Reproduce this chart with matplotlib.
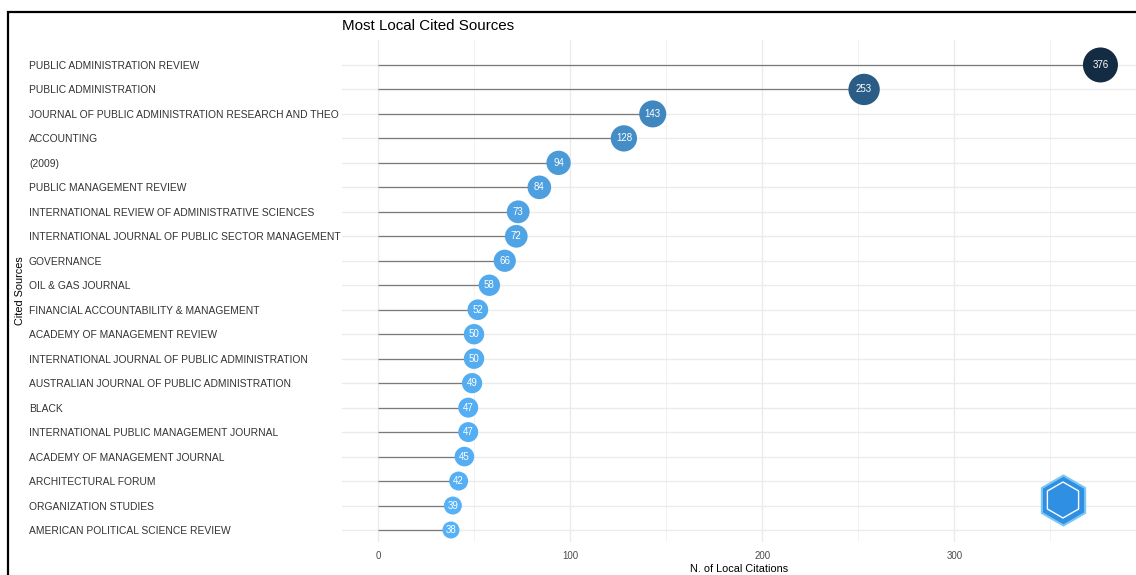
import numpy as np
import matplotlib
matplotlib.use('Agg')
import matplotlib.pyplot as plt
from matplotlib.colors import LinearSegmentedColormap
from matplotlib.patches import Rectangle

plt.rcParams['font.family'] = ['Liberation Sans', 'DejaVu Sans']

sources = [
    "PUBLIC ADMINISTRATION REVIEW",
    "PUBLIC ADMINISTRATION",
    "JOURNAL OF PUBLIC ADMINISTRATION RESEARCH AND THEO",
    "ACCOUNTING",
    "(2009)",
    "PUBLIC MANAGEMENT REVIEW",
    "INTERNATIONAL REVIEW OF ADMINISTRATIVE SCIENCES",
    "INTERNATIONAL JOURNAL OF PUBLIC SECTOR MANAGEMENT",
    "GOVERNANCE",
    "OIL & GAS JOURNAL",
    "FINANCIAL ACCOUNTABILITY & MANAGEMENT",
    "ACADEMY OF MANAGEMENT REVIEW",
    "INTERNATIONAL JOURNAL OF PUBLIC ADMINISTRATION",
    "AUSTRALIAN JOURNAL OF PUBLIC ADMINISTRATION",
    "BLACK",
    "INTERNATIONAL PUBLIC MANAGEMENT JOURNAL",
    "ACADEMY OF MANAGEMENT JOURNAL",
    "ARCHITECTURAL FORUM",
    "ORGANIZATION STUDIES",
    "AMERICAN POLITICAL SCIENCE REVIEW",
]
citations = [376, 253, 143, 128, 94, 84, 73, 72, 66, 58, 52, 50, 50, 49, 47, 47, 45, 42, 39, 38]

vals = np.array(citations, dtype=float)
n = len(vals)
ypos = np.arange(n)[::-1]  # first source on top

# ggplot-like gradient: low values light blue, high values dark navy
cmap = LinearSegmentedColormap.from_list('lcs', ['#56B1F7', '#132B43'])
frac = (vals - vals.min()) / (vals.max() - vals.min())
colors = cmap(frac)
# size scaled by area, diameter in px -> points
diam_px = 17 + 18 * np.sqrt(frac)
sizes = (diam_px * 0.72) ** 2

fig = plt.figure(figsize=(11.36, 5.75), dpi=100)
ax = fig.add_axes([342 / 1136, 1 - 542 / 575, 1 - 342 / 1136, (542 - 40) / 575])

ax.set_xlim(-18.7, 394.5)
ax.set_ylim(-0.49, 20.02)

# grid
for x in [0, 100, 200, 300]:
    ax.axvline(x, color='#EBEBEB', lw=1.0, zorder=0)
for x in [50, 150, 250, 350]:
    ax.axvline(x, color='#F2F2F2', lw=0.7, zorder=0)
for y in ypos:
    ax.axhline(y, color='#EBEBEB', lw=1.0, zorder=0)

ax.hlines(ypos, 0, vals, color='#7A7A7A', lw=0.9, zorder=1)
ax.scatter(vals, ypos, s=sizes, c=colors, zorder=2, linewidths=0)
for v, y in zip(citations, ypos):
    ax.text(v, y, str(v), color='white', fontsize=7, ha='center', va='center', zorder=3)

ax.set_xticks([0, 100, 200, 300])
ax.set_xticklabels(['0', '100', '200', '300'])
ax.set_yticks(ypos)
ax.set_yticklabels(sources)
ax.tick_params(axis='x', length=0, pad=6.5, labelsize=7, labelcolor='#4D4D4D')
ax.tick_params(axis='y', length=0, pad=225.4, labelsize=7.35, labelcolor='#333333')
for lab in ax.get_yticklabels():
    lab.set_ha('left')
for s in ax.spines.values():
    s.set_visible(False)

ax.set_xlabel('N. of Local Citations', fontsize=7.8, labelpad=2)
fig.text(20 / 1136, 1 - 291 / 575, 'Cited Sources', rotation=90, fontsize=7.8,
         ha='center', va='center')
fig.text(342 / 1136, 1 - 26 / 575, 'Most Local Cited Sources', fontsize=10.9,
         ha='left', va='center')

# logo placeholder (hexagon badge, bottom right)
ax.scatter([(1063 - 342) / (1136 - 342)], [(542 - 500) / (542 - 40)], marker='h',
           s=(50 * 0.72) ** 2, facecolor='#2F8FE3', edgecolor='#7CC8F5', lw=1.5,
           transform=ax.transAxes, zorder=4, clip_on=False)
ax.scatter([(1063 - 342) / (1136 - 342)], [(542 - 500) / (542 - 40)], marker='h',
           s=(36 * 0.72) ** 2, facecolor='none', edgecolor='white', lw=1.0,
           transform=ax.transAxes, zorder=5, clip_on=False)

# outer frame
frame = Rectangle((8 / 1136, -0.1), 1.2, 1.1 - 12 / 575, transform=fig.transFigure,
                  fill=False, edgecolor='black', lw=1.6)
fig.patches.append(frame)

fig.savefig('out.png', dpi=100)
